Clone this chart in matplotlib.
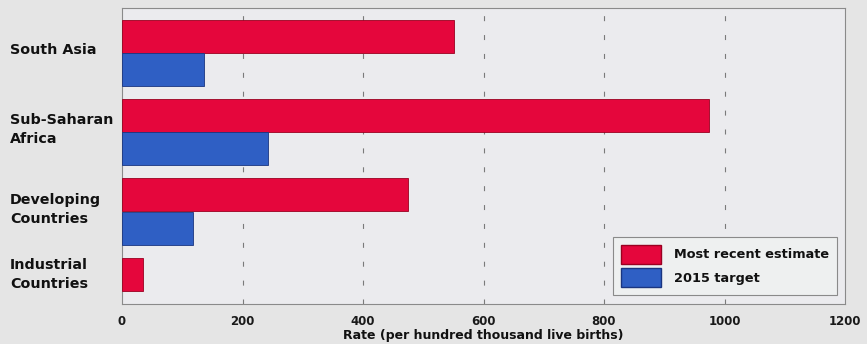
import matplotlib
matplotlib.use("Agg")
import matplotlib.pyplot as plt
from matplotlib.patches import Patch
import numpy as np

regions = ["South Asia", "Sub-Saharan\nAfrica", "Developing\nCountries", "Industrial\nCountries"]
recent_estimate = [551, 975, 474, 35]
target_2015 = [136, 243, 118, np.nan]
x_ticks = [0, 200, 400, 600, 800, 1000, 1200]

red = "#e5063c"
blue = "#2f5fc4"
fig_bg = "#e5e5e5"
ax_bg = "#ebebee"

fig = plt.figure(figsize=(8.67, 3.44), dpi=100, facecolor=fig_bg)
ax = fig.add_axes([122 / 867, 1 - 304 / 344, (845 - 122) / 867, (304 - 8) / 344])
ax.set_facecolor(ax_bg)

idx = np.arange(len(regions))
bar_h = 0.415
off = 0.42
ax.barh(idx, recent_estimate, height=bar_h, color=red, edgecolor="#9a0020",
        linewidth=0.6, zorder=3)
ax.barh(idx + off, target_2015, height=bar_h, color=blue, edgecolor="#1a3580",
        linewidth=0.6, zorder=3)

ax.set_xlim(0, 1200)
ax.set_ylim(3.375, -0.353)

ax.set_xticks(x_ticks)
ax.set_xticklabels([str(t) for t in x_ticks], fontsize=8.5, fontweight="bold", color="#1a1a1a")
ax.tick_params(axis="x", length=0, pad=8)
ax.set_yticks([])

for t in x_ticks[1:-1]:
    ax.axvline(t, color="#7a7a7a", linewidth=0.8, linestyle=(0, (4.5, 12.5)), zorder=1)

for s in ax.spines.values():
    s.set_color("#8a8a8a")
    s.set_linewidth(0.8)

# category labels, left-aligned in the margin
label_y = [off / 2 - 0.03, 1 + off / 2 - 0.03, 2 + off / 2 - 0.03, 3.0]
trans = matplotlib.transforms.blended_transform_factory(fig.transFigure, ax.transData)
for name, y in zip(regions, label_y):
    ax.text(10 / 867, y, name, transform=trans, ha="left", va="center",
            fontsize=10.3, fontweight="bold", color="#111111", linespacing=1.45)

ax.set_xlabel("Rate (per hundred thousand live births)", fontsize=9,
              fontweight="bold", color="#111111", labelpad=0.5)

handles = [Patch(facecolor=red, edgecolor="#9a0020", label="Most recent estimate"),
           Patch(facecolor=blue, edgecolor="#1a3580", label="2015 target")]
leg = ax.legend(handles=handles, loc="lower right", bbox_to_anchor=(0.989, 0.03),
                fontsize=9.3, frameon=True, fancybox=False, handlelength=3.1,
                handleheight=1.9, handletextpad=1.0, borderpad=0.6, labelspacing=0.35,
                borderaxespad=0)
leg.get_frame().set_facecolor("#eef0f0")
leg.get_frame().set_edgecolor("#8a8a8a")
leg.get_frame().set_linewidth(0.8)
leg.get_frame().set_alpha(1)
for txt in leg.get_texts():
    txt.set_fontweight("bold")
    txt.set_color("#111111")

fig.savefig("out.png", dpi=100, facecolor=fig_bg)
